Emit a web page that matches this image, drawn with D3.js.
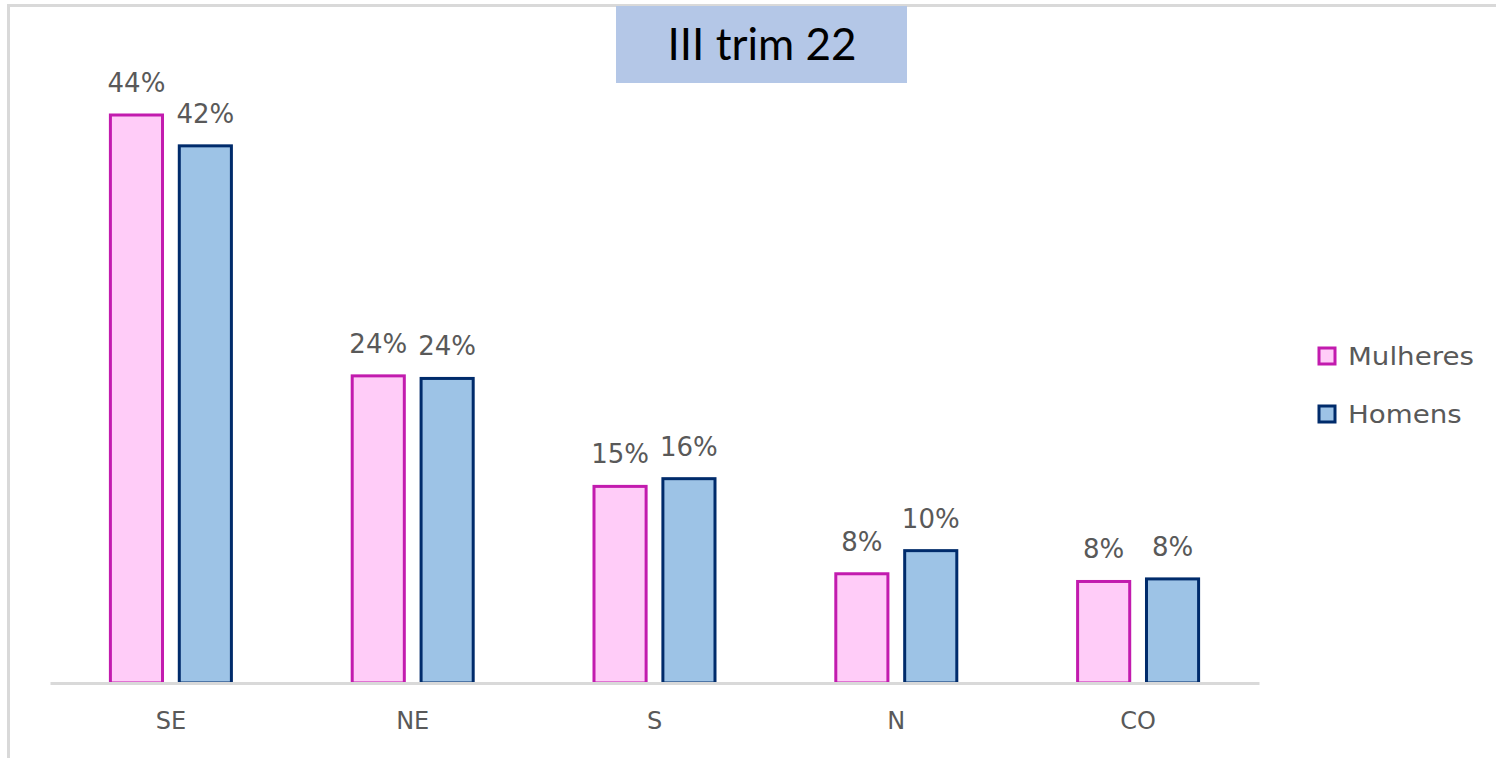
<!DOCTYPE html>
<html>
<head>
<meta charset="utf-8">
<script src="https://cdn.jsdelivr.net/npm/d3@7"></script>
<style>
  body { margin: 0; background: #fff; }
  svg { display: block; }
</style>
</head>
<body>
<div id="chart"></div>
<script>
// data
const categories = ["SE", "NE", "S", "N", "CO"];
const seriesNames = ["Mulheres", "Homens"];
const mulheres = [44.2, 23.9, 15.3, 8.5, 7.9];
const homens = [41.8, 23.7, 15.9, 10.3, 8.1];
const mulheresLabels = ["44%", "24%", "15%", "8%", "8%"];
const homensLabels = ["42%", "24%", "16%", "10%", "8%"];
const title = "III trim 22";

const W = 1496, H = 758;
const fills = ["#ffccf8", "#9dc3e6"];
const strokes = ["#c21bae", "#002b6b"];
const font = "'DejaVu Sans', sans-serif";

const svg = d3.select("#chart").append("svg")
  .attr("width", W).attr("height", H);

// frame lines (top + left)
svg.append("rect").attr("x", 7).attr("y", 4).attr("width", W - 7).attr("height", 3).attr("fill", "#d9d9d9");
svg.append("rect").attr("x", 7).attr("y", 4).attr("width", 3).attr("height", H - 4).attr("fill", "#d9d9d9");

const left = 50, right = 1259, baseY = 683;

const x = d3.scaleBand()
  .domain(categories)
  .range([left, right]);

const xInner = d3.scaleBand()
  .domain(seriesNames)
  .range([x.bandwidth() / 2 - 62, x.bandwidth() / 2 + 62])
  .paddingInner(0.2);

const y = d3.scaleLinear()
  .domain([0, 44.2])
  .range([baseY, 115]);

const rows = categories.map((c, i) => ({
  cat: c,
  vals: [
    {s: 0, v: mulheres[i], lab: mulheresLabels[i]},
    {s: 1, v: homens[i], lab: homensLabels[i]}
  ]
}));

const groups = svg.selectAll("g.cat")
  .data(rows)
  .enter().append("g")
  .attr("class", "cat")
  .attr("transform", d => `translate(${x(d.cat)},0)`);

groups.selectAll("rect")
  .data(d => d.vals)
  .enter().append("rect")
  .attr("x", d => xInner(seriesNames[d.s]) + 1.5)
  .attr("width", xInner.bandwidth() - 3)
  .attr("y", d => y(d.v))
  .attr("height", d => baseY - y(d.v))
  .attr("fill", d => fills[d.s])
  .attr("stroke", d => strokes[d.s])
  .attr("stroke-width", 3);

groups.selectAll("text.val")
  .data(d => d.vals)
  .enter().append("text")
  .attr("class", "val")
  .attr("x", d => xInner(seriesNames[d.s]) + xInner.bandwidth() / 2)
  .attr("y", d => y(d.v) - 23)
  .attr("text-anchor", "middle")
  .attr("font-family", font)
  .attr("font-size", 26)
  .attr("fill", "#595959")
  .text(d => d.lab);

// x axis
const xAxis = svg.append("g")
  .attr("transform", `translate(0,${baseY})`)
  .call(d3.axisBottom(x).tickSize(0).tickPadding(29));
xAxis.select(".domain").attr("stroke", "#d9d9d9").attr("stroke-width", 3);
xAxis.selectAll("text")
  .attr("font-family", font)
  .attr("font-size", 24)
  .attr("fill", "#595959");

// title box
svg.append("rect")
  .attr("x", 616).attr("y", 6).attr("width", 291).attr("height", 77)
  .attr("fill", "#b4c7e7");
svg.append("text")
  .attr("x", 762).attr("y", 60)
  .attr("text-anchor", "middle")
  .attr("font-family", "Lato, sans-serif")
  .attr("font-size", 44)
  .attr("fill", "#000")
  .text(title);

// legend (text looks a bit horizontally stretched in the original)
const legend = svg.selectAll("g.leg")
  .data(seriesNames)
  .enter().append("g")
  .attr("class", "leg")
  .attr("transform", (d, i) => `translate(1319,${348 + i * 58})`);
legend.append("rect")
  .attr("width", 16).attr("height", 16)
  .attr("fill", (d, i) => fills[i])
  .attr("stroke", (d, i) => strokes[i])
  .attr("stroke-width", 3);
legend.append("text")
  .attr("transform", "translate(29,17) scale(1.13,1)")
  .attr("font-family", font)
  .attr("font-size", 24.5)
  .attr("fill", "#595959")
  .text(d => d);
</script>
</body>
</html>
